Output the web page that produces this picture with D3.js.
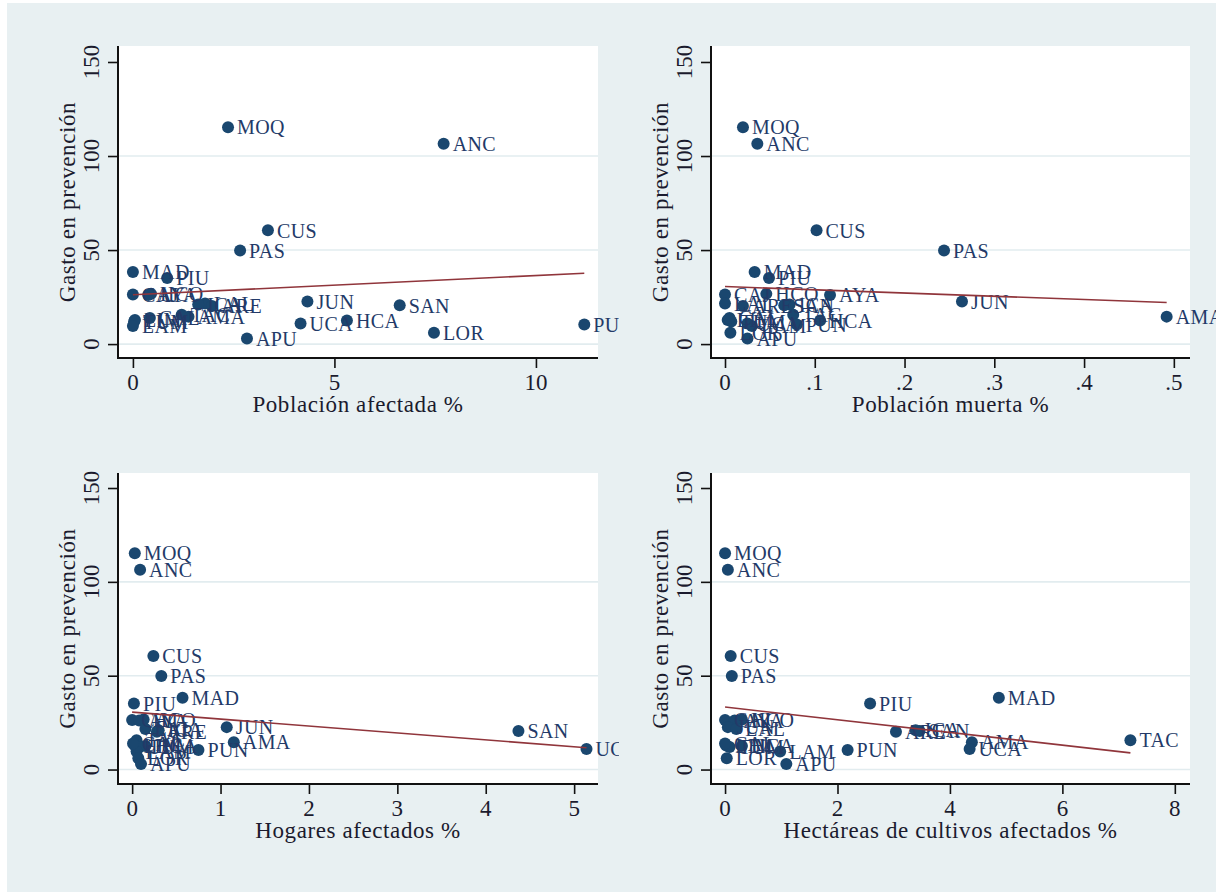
<!DOCTYPE html>
<html><head><meta charset="utf-8">
<script src="https://cdn.jsdelivr.net/npm/d3@7"></script>
<style>body{margin:0;background:#fff}svg{display:block}</style>
</head><body>
<svg id="c" width="1216" height="892"></svg>
<script>
// ---- data ----
const regions = ["MOQ","ANC","CUS","PAS","MAD","PIU","CAJ","HCO","AYA","JUN","LAL","ICA","ARE","SAN","AMA","TAC","LIM","HCA","TUM","UCA","LAM","PUN","LOR","APU","CAL"];
const gasto   = [115.3,106.5,60.5,49.8,38.3,35.2,26.4,26.7,26.1,22.6,21.6,21.0,20.2,20.6,14.6,15.6,12.8,12.6,12.0,10.9,9.6,10.4,6.0,3.0,13.9];
const poblacionAfectada = [2.36,7.71,3.35,2.66,0.0,0.85,0.0,0.45,0.38,4.33,1.79,1.62,1.96,6.62,1.38,1.21,0.05,5.31,0.03,4.16,0.0,11.2,7.47,2.83,0.42];
const poblacionMuerta   = [0.020,0.036,0.102,0.244,0.033,0.049,0.000,0.046,0.117,0.264,0.000,0.072,0.020,0.066,0.492,0.076,0.003,0.106,0.007,0.025,0.030,0.080,0.006,0.025,0.005];
const hogaresAfectados  = [0.03,0.09,0.24,0.33,0.57,0.02,0.00,0.13,0.08,1.07,0.15,0.30,0.28,4.37,1.15,0.05,0.03,0.15,0.08,5.14,0.05,0.75,0.07,0.10,0.01];
const hectareasAfectadas= [0.00,0.05,0.10,0.12,4.87,2.58,0.00,0.30,0.17,0.05,0.20,3.39,3.04,3.46,4.39,7.21,0.02,0.30,0.08,4.35,0.98,2.18,0.03,1.09,0.00];

const xTitles = ["Población afectada %","Población muerta %","Hogares afectados %","Hectáreas de cultivos afectados %"];
const yTitle = "Gasto en prevención";
const xTicksTL = [0,5,10];
const xTicksTR = [0,0.1,0.2,0.3,0.4,0.5];
const xTicksBL = [0,1,2,3,4,5];
const xTicksBR = [0,2,4,6,8];
const yTicks = [0,50,100,150];
const yGrid = [0,50,100];
// fitted line endpoints [x0, y0, x1, y1]
const fitTL = [0, 26.2, 11.2, 37.7];
const fitTR = [0, 30.6, 0.492, 22.1];
const fitBL = [0, 30.6, 5.14, 11.6];
const fitBR = [0, 33.3, 7.21, 8.9];

// ---- layout ----
const BG = "#e8f0f2", NAVY = "#1a476f", MAROON = "#90353b", INK = "#1b1b2e";
const FONT = "'Liberation Serif','Times New Roman',serif";
const svg = d3.select("#c");
svg.append("rect").attr("x",7).attr("y",3).attr("width",1209).attr("height",889).attr("fill",BG);

const panels = [
  {xs:poblacionAfectada, title:xTitles[0], ticks:xTicksTL, fmt:d3.format("d"),
   left:118,right:598,top:46,bottom:358, xdom:[-0.37,11.54], ydom:[-7.4,158.5], clipR:619, fit:fitTL},
  {xs:poblacionMuerta, title:xTitles[1], ticks:xTicksTR, fmt:d=> d===0?"0":d3.format(".1f")(d).replace(/^0/,""),
   left:711,right:1190,top:46,bottom:358, xdom:[-0.0156,0.518], ydom:[-7.4,158.5], clipR:1216, fit:fitTR},
  {xs:hogaresAfectados, title:xTitles[2], ticks:xTicksBL, fmt:d3.format("d"),
   left:118,right:598,top:473,bottom:784, xdom:[-0.16,5.27], ydom:[-7.7,158], clipR:619, fit:fitBL},
  {xs:hectareasAfectadas, title:xTitles[3], ticks:xTicksBR, fmt:d3.format("d"),
   left:711,right:1190,top:473,bottom:784, xdom:[-0.25,8.27], ydom:[-7.7,158], clipR:1216, fit:fitBR}
];

const defs = svg.append("defs");
panels.forEach((p,i)=>{
  const x = d3.scaleLinear().domain(p.xdom).range([p.left,p.right]);
  const y = d3.scaleLinear().domain(p.ydom).range([p.bottom,p.top]);
  const g = svg.append("g");
  defs.append("clipPath").attr("id","clip"+i).append("rect")
    .attr("x",p.left-20).attr("y",p.top-40).attr("width",p.clipR-p.left+20).attr("height",p.bottom-p.top+60);

  g.append("rect").attr("x",p.left).attr("y",p.top).attr("width",p.right-p.left).attr("height",p.bottom-p.top).attr("fill","#fff");
  g.selectAll("line.grid").data(yGrid).join("line")
    .attr("x1",p.left).attr("x2",p.right).attr("y1",d=>y(d)).attr("y2",d=>y(d))
    .attr("stroke","#e2ecef").attr("stroke-width",1.6);

  // axes
  const yAxis = d3.axisLeft(y).tickValues(yTicks).tickSize(10).tickFormat("");
  const ya = g.append("g").attr("transform",`translate(${p.left},0)`).call(yAxis);
  ya.select(".domain").remove();
  ya.selectAll(".tick line").attr("stroke","#111").attr("stroke-width",1.6);
  g.append("line").attr("x1",p.left).attr("x2",p.left).attr("y1",p.top).attr("y2",p.bottom+1).attr("stroke","#111").attr("stroke-width",2);
  g.selectAll("text.yt").data(yTicks).join("text")
    .attr("transform",d=>`translate(${p.left-19},${y(d)}) rotate(-90)`)
    .attr("text-anchor","middle").attr("font-family",FONT).attr("font-size",23).attr("fill",INK)
    .text(d=>d);

  const xAxis = d3.axisBottom(x).tickValues(p.ticks).tickSize(10).tickFormat("");
  const xa = g.append("g").attr("transform",`translate(0,${p.bottom})`).call(xAxis);
  xa.select(".domain").remove();
  xa.selectAll(".tick line").attr("stroke","#111").attr("stroke-width",1.6);
  g.append("line").attr("x1",p.left-1).attr("x2",p.right).attr("y1",p.bottom).attr("y2",p.bottom).attr("stroke","#111").attr("stroke-width",2);
  g.selectAll("text.xt").data(p.ticks).join("text")
    .attr("x",d=>x(d)).attr("y",p.bottom+32).attr("text-anchor","middle")
    .attr("font-family",FONT).attr("font-size",23).attr("fill",INK).text(p.fmt);

  g.append("text").attr("x",(p.left+p.right)/2).attr("y",p.bottom+54).attr("text-anchor","middle")
    .attr("font-family",FONT).attr("font-size",23).attr("letter-spacing",0.6).attr("fill",INK).text(p.title);
  g.append("text").attr("transform",`translate(${p.left-43},${(p.top+p.bottom)/2}) rotate(-90)`)
    .attr("text-anchor","middle").attr("font-family",FONT).attr("font-size",23).attr("letter-spacing",0.6)
    .attr("fill",INK).text(yTitle);

  // points and labels
  const pts = regions.map((r,k)=>({r, xv:p.xs[k], yv:gasto[k]}));
  const pg = g.append("g").attr("clip-path",`url(#clip${i})`);
  pg.selectAll("circle").data(pts).join("circle")
    .attr("cx",d=>x(d.xv)).attr("cy",d=>y(d.yv)).attr("r",6).attr("fill",NAVY);
  pg.selectAll("text").data(pts).join("text")
    .attr("x",d=>x(d.xv)+9).attr("y",d=>y(d.yv)).attr("dy","0.36em")
    .attr("font-family",FONT).attr("font-size",20).attr("letter-spacing",0.4).attr("fill","#233a68")
    .text(d=>d.r);

  // fitted line
  g.append("line").attr("x1",x(p.fit[0])).attr("y1",y(p.fit[1])).attr("x2",x(p.fit[2])).attr("y2",y(p.fit[3]))
    .attr("stroke",MAROON).attr("stroke-width",1.6);
});
</script>
</body></html>
